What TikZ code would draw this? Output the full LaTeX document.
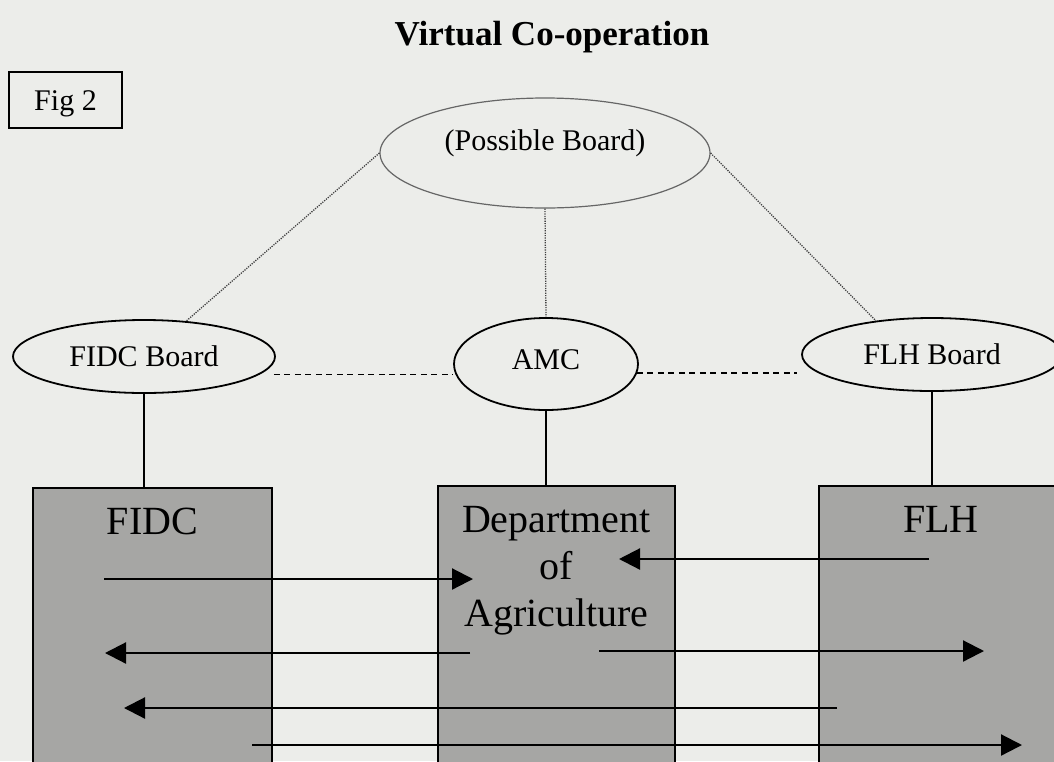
\documentclass[tikz,border=0pt]{standalone}
\usepackage{fontspec}
\setmainfont{Liberation Serif}
\usepackage{tikz}
\usetikzlibrary{arrows.meta,calc,positioning,shapes.geometric}
\definecolor{papier}{RGB}{236,237,234}
\definecolor{kasten}{RGB}{166,166,164}
\tikzset{
  brett/.style={draw,ellipse,line width=1.8pt,inner sep=0pt,font=\fontsize{30}{36}\selectfont},
  kiste/.style={draw,fill=kasten,line width=1.8pt,anchor=north west,inner sep=0pt},
  kistentext/.style={font=\fontsize{40}{47}\selectfont,inner sep=0pt,align=center},
  punktlinie/.style={black!75,line width=1.3pt,dash pattern=on 1.2pt off 1.2pt},
  strichlinie/.style={line width=1.8pt,dash pattern=on 6pt off 4.5pt},
  pfeil/.style={line width=2.2pt,-{Triangle[length=21pt,width=21pt]}}
}
\begin{document}
\begin{tikzpicture}[x=1pt,y=-1pt]
\useasboundingbox (0,0) rectangle (1054,761);
\clip (0,0) rectangle (1054,761);
\fill[papier] (0,0) rectangle (1054,761);
%Titel und Kasten oben links
\node[font=\fontsize{35}{42}\selectfont\bfseries,anchor=base] (titel) at (552,45) {Virtual Co-operation};
\node[draw,line width=1.6pt,minimum width=113pt,minimum height=56pt,inner sep=0pt,text height=20pt,text depth=0pt,font=\fontsize{30}{36}\selectfont] (fig) at (65.5,100) {Fig 2};
%Boards
\node[brett,draw=black!60,line width=1.2pt,minimum width=330pt,minimum height=110pt,text height=20pt,text depth=26pt] (pb) at (545,153) {(Possible Board)};
\node[brett,minimum width=262pt,minimum height=73pt] (fidcb) at (144,356.5) {FIDC Board};
\node[brett,minimum width=184pt,minimum height=92pt,text height=21pt,text depth=11pt] (amc) at (546,364) {AMC};
\node[brett,minimum width=260pt,minimum height=73pt] (flhb) at (932,354.5) {FLH Board};
%Kaesten, laufen unten aus dem Bild
\node[kiste,minimum width=239pt,minimum height=320pt] (fidc) at (32,487) {};
\node[kiste,minimum width=237pt,minimum height=320pt] (doa) at (437,485) {};
\node[kiste,minimum width=244pt,minimum height=320pt] (flh) at (818,485) {};
\node[kistentext,below=21pt of fidc.north] (fidct) {FIDC};
\node[kistentext,below=21pt of doa.north] (doat) {Department\\of\\Agriculture};
\node[kistentext,below=21pt of flh.north] (flht) {FLH};
%Verbindungen
\draw[line width=1.6pt] (fidcb.south) -- (fidcb.south |- fidc.north);
\draw[line width=1.6pt] (amc.south) -- (amc.south |- doa.north);
\draw[line width=1.6pt] (flhb.south) -- (flhb.south |- flh.north);
\draw[punktlinie] (pb.west) -- (fidcb.40);
\draw[punktlinie] (pb.south) -- (amc.north);
\draw[punktlinie] (pb.east) -- (flhb.149);
\draw[strichlinie] ($(fidcb.east)+(-2,18)$) coordinate (s1) -- (s1 -| amc.west);
\draw[strichlinie] ($(amc.east)+(-2,9)$) coordinate (s2) -- ($(s2 -| flhb.west)+(-4,0)$);
%Pfeile: Nummer/Start/Ende/Hoehe
\foreach \n/\xa/\xb/\yy in {1/104/473/579, 2/470/105/653, 3/929/619/559, 4/599/984/651, 5/837/124/708, 6/252/1022/745}{
  \coordinate (p\n a) at (\xa,\yy);
  \coordinate (p\n b) at (\xb,\yy);
  \draw[pfeil] (p\n a) -- (p\n b);
}
\end{tikzpicture}
\end{document}
